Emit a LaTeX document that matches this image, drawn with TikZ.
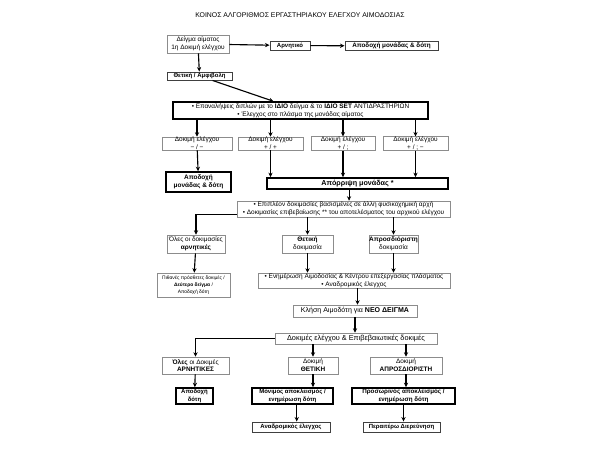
\documentclass[tikz,border=0pt]{standalone}
\usepackage{fontspec}
\setmainfont{Liberation Sans}
\usetikzlibrary{arrows.meta}
\newcommand\boxfont{\fontsize{4.6}{5.6}\selectfont}
\newcommand\bfboxfont{\fontsize{4.25}{5.4}\selectfont\bfseries}

\begin{document}
\begin{tikzpicture}[
  x=0.025cm, y=-0.025cm,
  every node/.style={inner sep=0pt, align=center, font=\boxfont},
  sz/.style 2 args={minimum width=#1*0.025cm, minimum height=#2*0.025cm},
  greybox/.style={draw=black!45, line width=0.4pt},
  midbox/.style={draw=black!75, line width=0.7pt, font=\bfboxfont},
  darkbox/.style={draw=black, line width=1.2pt, font=\bfboxfont},
  arr/.style={-{Stealth[length=3.2pt,width=3pt]}, line width=0.8pt}
]
\useasboundingbox[fill=white] (0,0) rectangle (600,450);

\node[font=\fontsize{4.9}{6}\selectfont] (title) at (300,15) {ΚΟΙΝΟΣ ΑΛΓΟΡΙΘΜΟΣ ΕΡΓΑΣΤΗΡΙΑΚΟΥ ΕΛΕΓΧΟΥ ΑΙΜΟΔΟΣΙΑΣ};

% first test
\node[greybox, sz={62}{18}] (sample) at (198,44) {Δείγμα αίματος\\1η Δοκιμή ελέγχου};
\node[midbox, sz={40}{9}] (neg) at (290,45.5) {Αρνητικό};
\node[midbox, sz={93}{9}, font=\fontsize{4.5}{5.4}\selectfont\bfseries] (acc1) at (391.5,46) {Αποδοχή μονάδας \& δότη};
\node[midbox, sz={65}{8}] (pos) at (199.5,76) {Θετική / Αμφιβολη};

% repeats
\node[draw, line width=1pt, sz={255}{17}] (rep) at (300.5,110.5)
  {• Επαναλήψεις διπλών με το \textbf{ΙΔΙΟ} δείγμα \& το \textbf{ΙΔΙΟ SET} ΑΝΤΙΔΡΑΣΤΗΡΙΩΝ\\• Έλεγχος στο πλάσμα της μονάδας αίματος};
\node[greybox, sz={70}{13}] (t1) at (197,143.5) {Δοκιμή ελέγχου\\− / −};
\node[greybox, sz={65}{13}] (t2) at (270.5,143.5) {Δοκιμή ελέγχου\\+ / +};
\node[greybox, sz={64}{13}] (t3) at (343,143.5) {Δοκιμή ελέγχου\\+ / ;};
\node[greybox, sz={65}{13}] (t4) at (415.5,143.5) {Δοκιμή ελέγχου\\+ / ; −};
\node[darkbox, sz={65}{20}, font=\fontsize{4.6}{5.8}\selectfont\bfseries] (acc2) at (198.5,182) {Αποδοχή\\μονάδας \& δότη};
\node[darkbox, sz={181}{11}, font=\fontsize{5.1}{6}\selectfont\bfseries] (rej) at (357.5,183.5) {Απόρριψη μονάδας *};

% further tests
\node[greybox, sz={213}{16}] (extra) at (343.5,209)
  {• Επιπλέον δοκιμασίες βασισμένες σε άλλη φυσικοχημική αρχή\\• Δοκιμασίες επιβεβαίωσης ** του αποτελέσματος του αρχικού ελέγχου};
\node[greybox, sz={58}{18}] (neg2) at (196,244) {Όλες οι δοκιμασίες\\\textbf{αρνητικές}};
\node[greybox, sz={51}{18}] (posd) at (307.5,244) {\textbf{Θετική}\\δοκιμασία};
\node[greybox, sz={47}{18}] (undd) at (393.5,244) {\textbf{Απροσδιόριστη}\\δοκιμασία};
\node[greybox, sz={73}{24}, font=\fontsize{3.5}{5.2}\selectfont] (maybe) at (193.5,285) {Πιθανές πρόσθετες δοκιμές /\\\textbf{Δεύτερο δείγμα} /\\Αποδοχή δότη};
\node[greybox, sz={192}{15}] (upd) at (354,280.5)
  {• Ενημέρωση Αιμοδοσίας \& Κέντρου επεξεργασίας πλάσματος\\• Αναδρομικός έλεγχος};

% new sample
\node[greybox, sz={124}{12}, font=\fontsize{5}{6}\selectfont] (call) at (355,311) {Κλήση Αιμοδότη για \textbf{ΝΕΟ ΔΕΙΓΜΑ}};
\node[greybox, sz={162}{11}, font=\fontsize{5.2}{6}\selectfont] (ctrl) at (356,338.5) {Δοκιμές ελέγχου \& Επιβεβαιωτικές δοκιμές};
\node[greybox, sz={67}{17}] (allneg) at (195.5,365.5) {\textbf{Όλες} οι Δοκιμές\\\textbf{ΑΡΝΗΤΙΚΕΣ}};
\node[greybox, sz={50}{17}] (posT) at (313,365.5) {Δοκιμή\\\textbf{ΘΕΤΙΚΗ}};
\node[greybox, sz={72}{17}] (undT) at (406,365.5) {Δοκιμή\\\textbf{ΑΠΡΟΣΔΙΟΡΙΣΤΗ}};
\node[darkbox, sz={37}{16}] (accd) at (194.5,396) {Αποδοχή\\δότη};
\node[darkbox, sz={81}{16}] (perm) at (292.5,396) {Μόνιμος αποκλεισμός /\\ενημέρωση δότη};
\node[darkbox, sz={103}{16}, font=\fontsize{4.45}{5.4}\selectfont\bfseries] (temp) at (403.5,396) {Προσωρινός αποκλεισμός /\\ενημέρωση δότη};
\node[midbox, sz={78}{10}] (retro) at (291,427) {Αναδρομικός έλεγχος};
\node[midbox, sz={77}{10}] (further) at (401.5,427) {Περαιτέρω Διερεύνηση};

% connectors
\draw[arr] (sample) -- (neg);
\draw[arr] (neg) -- (acc1);
\draw[arr] (sample) -- (pos);
\draw[arr] (pos) -- (rep);
\foreach \t in {t1,t2,t3,t4}
  \draw[arr] (rep.south -| \t.north) -- (\t);
\draw[arr] (t1) -- (acc2);
\foreach \t in {t2,t3,t4}
  \draw[arr] (\t) -- (\t.south |- rej.north);
\draw[arr] ([xshift=-6pt]rej.south) -- ([xshift=-6pt]rej.south |- extra.north);
\draw[arr] ([yshift=2.2pt]extra.south west) -| (neg2.north);
\draw[arr] (extra.south -| posd.north) -- (posd);
\draw[arr] (extra.south -| undd.north) -- (undd);
\draw[arr] (neg2) -- (maybe);
\draw[arr] (posd) -- (posd.south |- upd.north);
\draw[arr] (undd) -- (undd.south |- upd.north);
\draw[arr] ([xshift=2.5pt]upd.south) -- ([xshift=2.5pt]upd.south |- call.north);
\draw[arr] (call) -- (call.south |- ctrl.north);
\draw[arr] (ctrl.west) -| (allneg.north);
\draw[arr] (ctrl.south -| posT.north) -- (posT);
\draw[arr] (ctrl.south -| undT.north) -- (undT);
\draw[arr] (allneg) -- (accd);
\draw[arr] (posT) -- (posT.south |- perm.north);
\draw[arr] (undT) -- (undT.south |- temp.north);
\draw[arr] ([xshift=3pt]perm.south) -- ([xshift=3pt]perm.south |- retro.north);
\draw[arr] (temp) -- (temp.south |- further.north);
\end{tikzpicture}
\end{document}
